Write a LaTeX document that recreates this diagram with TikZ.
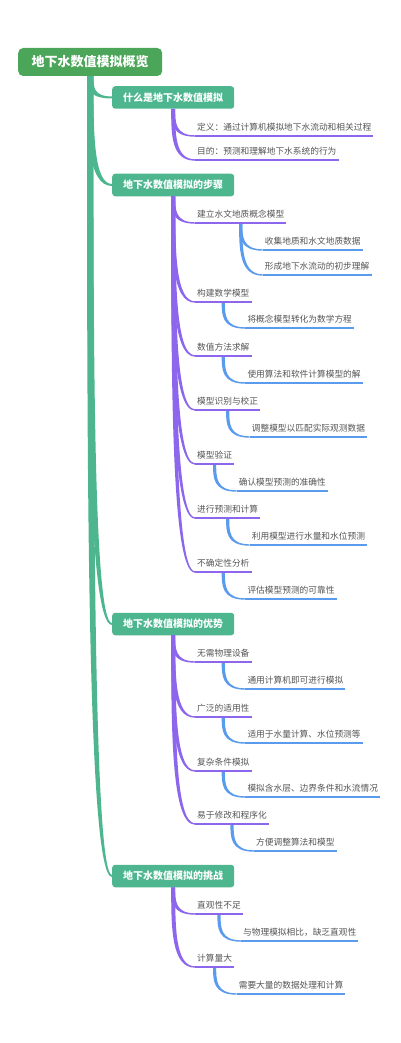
\documentclass[tikz,border=0pt]{standalone}
\usepackage{fontspec}
\setmainfont{Noto Sans CJK SC}
\usetikzlibrary{calc}
\definecolor{rootg}{HTML}{4CA65A}
\definecolor{tealb}{HTML}{4DB68E}
\definecolor{purp}{HTML}{8C66EC}
\definecolor{blu}{HTML}{5B9BEE}
\definecolor{txt}{HTML}{555555}
% tapered curved connector: #1 style, #2 start, #3 end, #4 half width at start, #5 half width at end
\newcommand\taperlink[5]{%
  \fill[#1] let \p1=(#2), \p2=(#3) in
    ({\x1-#4},\y1) .. controls ({\x1-#4},{0.5*(\y1+\y2)}) and ({\x1-#4},{\y2-#5}) .. (\x2,{\y2-#5})
    -- (\x2,{\y2+#5}) .. controls ({\x1+#4},{\y2+#5}) and ({\x1+#4},{0.5*(\y1+\y2)}) .. ({\x1+#4},\y1) -- cycle;}
\begin{document}
\begin{tikzpicture}[x=1pt,y=-1pt,
  rootbox/.style={fill=rootg, text=white, rounded corners=5pt, font=\fontsize{13}{15}\selectfont\bfseries, minimum height=28pt, inner xsep=13.5pt, inner ysep=0pt, anchor=west},
  l1box/.style={fill=tealb, text=white, rounded corners=3pt, font=\fontsize{10}{12}\selectfont\bfseries, minimum height=22.5pt, inner xsep=11pt, inner ysep=0pt, anchor=west},
  leaf/.style={anchor=south west, text=txt, font=\fontsize{8.7}{10}\selectfont, inner xsep=2pt, inner ysep=4pt, text height=7pt, text depth=1.5pt},
  l2line/.style={purp, line width=1.4pt},
  l3line/.style={blu, line width=1.4pt},
  tlink/.style={tealb},
  plink/.style={purp},
  blink/.style={blu},
]
\fill[white] (0,0) rectangle (400,1043);
\useasboundingbox (0,0) rectangle (400,1043);

% main nodes
\node[rootbox] (root) at (18,62) {地下水数值模拟概览};
\node[l1box] (s1) at (112,97.5) {什么是地下水数值模拟};
\node[l1box] (s2) at (112,185) {地下水数值模拟的步骤};
\node[l1box] (s3) at (112,624) {地下水数值模拟的优势};
\node[l1box] (s4) at (112,876) {地下水数值模拟的挑战};

% section 1
\node[leaf] (a01) at (195,136) {定义：通过计算机模拟地下水流动和相关过程};
\node[leaf] (a02) at (195,160) {目的：预测和理解地下水系统的行为};

% section 2
\node[leaf] (a1) at (195,223) {建立水文地质概念模型};
\node[leaf] (a2) at (195,302) {构建数学模型};
\node[leaf] (a3) at (195,356) {数值方法求解};
\node[leaf] (a4) at (195,410) {模型识别与校正};
\node[leaf] (a5) at (195,464) {模型验证};
\node[leaf] (a6) at (195,518) {进行预测和计算};
\node[leaf] (a7) at (195,572) {不确定性分析};
\node[leaf] (a1a) at ($(a1.south)+(22,27)$) {收集地质和水文地质数据};
\node[leaf] (a1b) at ($(a1.south)+(22,52)$) {形成地下水流动的初步理解};
\node[leaf] (a2a) at ($(a2.south)+(22,26)$) {将概念模型转化为数学方程};
\node[leaf] (a3a) at ($(a3.south)+(22,27)$) {使用算法和软件计算模型的解};
\node[leaf] (a4a) at ($(a4.south)+(22,27)$) {调整模型以匹配实际观测数据};
\node[leaf] (a5a) at ($(a5.south)+(22,27)$) {确认模型预测的准确性};
\node[leaf] (a6a) at ($(a6.south)+(22,27)$) {利用模型进行水量和水位预测};
\node[leaf] (a7a) at ($(a7.south)+(22,27)$) {评估模型预测的可靠性};

% section 3
\node[leaf] (b1) at (195,662) {无需物理设备};
\node[leaf] (b2) at (195,717) {广泛的适用性};
\node[leaf] (b3) at (195,771) {复杂条件模拟};
\node[leaf] (b4) at (195,824) {易于修改和程序化};
\node[leaf] (b1a) at ($(b1.south)+(22,27)$) {通用计算机即可进行模拟};
\node[leaf] (b2a) at ($(b2.south)+(22,26)$) {适用于水量计算、水位预测等};
\node[leaf] (b3a) at ($(b3.south)+(22,26)$) {模拟含水层、边界条件和水流情况};
\node[leaf] (b4a) at ($(b4.south)+(22,27)$) {方便调整算法和模型};

% section 4
\node[leaf] (c1) at (195,914) {直观性不足};
\node[leaf] (c2) at (195,967) {计算量大};
\node[leaf] (c1a) at ($(c1.south)+(22,27)$) {与物理模拟相比，缺乏直观性};
\node[leaf] (c2a) at ($(c2.south)+(22,27)$) {需要大量的数据处理和计算};

% connectors: root to sections
\foreach \sx in {s1,s2,s3,s4} {\taperlink{tlink}{root.south}{\sx.west}{3.2pt}{1pt}}

% section to level 2
\foreach \ch in {a01,a02} {\taperlink{plink}{s1.south}{\ch.south west}{2pt}{0.7pt}}
\foreach \ch in {a1,a2,a3,a4,a5,a6,a7} {\taperlink{plink}{s2.south}{\ch.south west}{2pt}{0.7pt}}
\foreach \ch in {b1,b2,b3,b4} {\taperlink{plink}{s3.south}{\ch.south west}{2pt}{0.7pt}}
\foreach \ch in {c1,c2} {\taperlink{plink}{s4.south}{\ch.south west}{2pt}{0.7pt}}

% level 2 to level 3
\foreach \pa/\ch in {a1/a1a,a1/a1b,a2/a2a,a3/a3a,a4/a4a,a5/a5a,a6/a6a,a7/a7a,b1/b1a,b2/b2a,b3/b3a,b4/b4a,c1/c1a,c2/c2a}
  {\taperlink{blink}{\pa.south}{\ch.south west}{1.6pt}{0.7pt}}

% underlines
\foreach \nd in {a01,a02,a1,a2,a3,a4,a5,a6,a7,b1,b2,b3,b4,c1,c2}
  {\draw[l2line] (\nd.south west) -- (\nd.south east);}
\foreach \nd in {a1a,a1b,a2a,a3a,a4a,a5a,a6a,a7a,b1a,b2a,b3a,b4a,c1a,c2a}
  {\draw[l3line] (\nd.south west) -- (\nd.south east);}
\end{tikzpicture}
\end{document}
